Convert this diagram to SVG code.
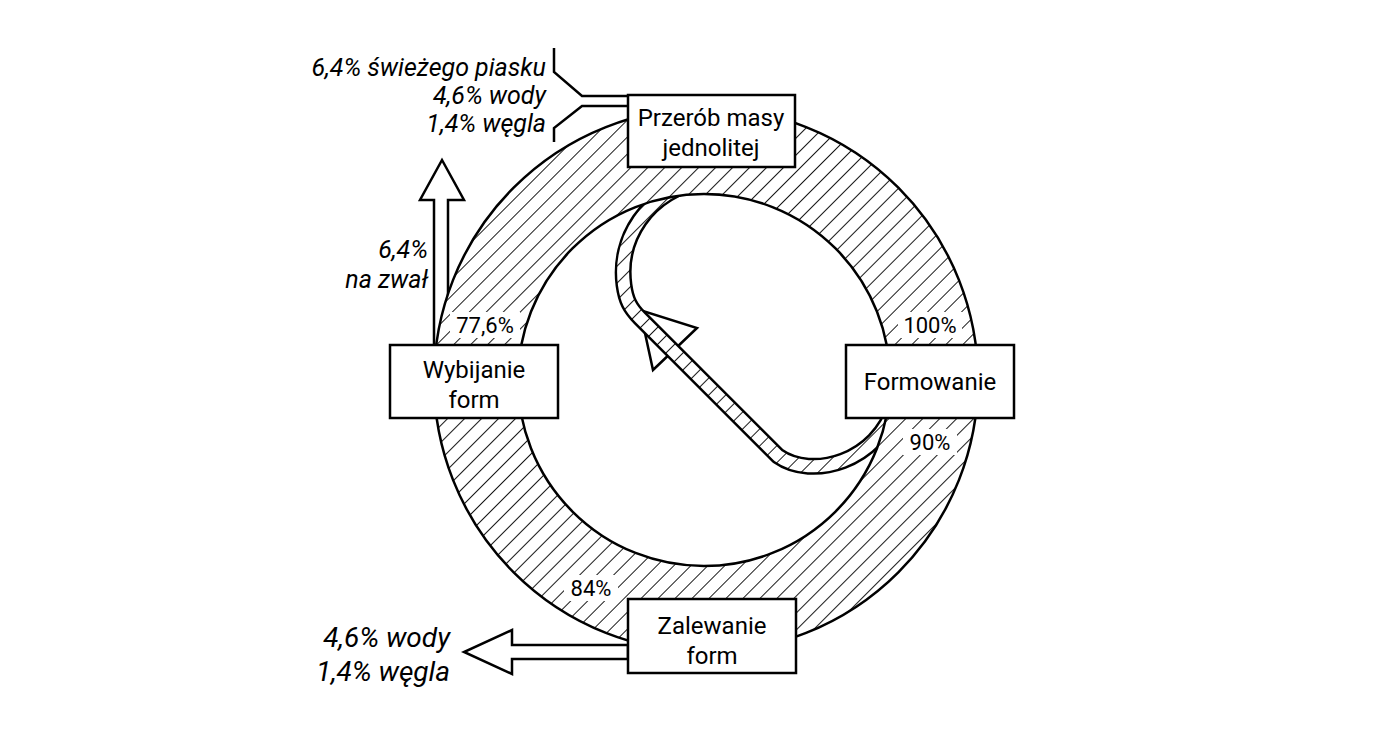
<svg xmlns="http://www.w3.org/2000/svg" width="1400" height="734" viewBox="0 0 1400 734">
<defs>
<pattern id="h" patternUnits="userSpaceOnUse" width="12" height="12" patternTransform="rotate(45)">
<rect width="12" height="12" fill="#fff"/><line x1="0" y1="0" x2="0" y2="12" stroke="#000" stroke-width="1.8"/>
</pattern>
</defs>
<style>
text{font-family:Roboto,"Liberation Sans",sans-serif;font-size:24px;fill:#000}
.it{font-style:italic;font-size:25px;text-anchor:end}
.big{font-size:28px}
.box{fill:#fff;stroke:#000;stroke-width:2.5}
.c{text-anchor:middle}
.ln{fill:none;stroke:#000;stroke-width:2.5}
.lbl{fill:#fff}
.p{font-size:22px}
</style>
<rect width="1400" height="734" fill="#fff"/>
<g id="connectors">
<polygon points="653,370 697,328 640,310" fill="#fff" stroke="#000" stroke-width="2.5"/>
<path d="M704,180 C645,192 618,240 624,285 C626,300 630,308 640,318 L778,456 C812,480 878,462 895,405" fill="none" stroke="#000" stroke-width="17" stroke-linejoin="round"/>
<path d="M704,180 C645,192 618,240 624,285 C626,300 630,308 640,318 L778,456 C812,480 878,462 895,405" fill="none" stroke="url(#h)" stroke-width="12" stroke-linejoin="round"/>
<polygon points="434,345 434,200 420,200 442,160 464,200 448,200 448,345" fill="#fff" stroke="#000" stroke-width="2.5"/>
<polygon points="628,645 512,645 512,630 464,652 512,674 512,659 628,659" fill="#fff" stroke="#000" stroke-width="2.5"/>
<polyline class="ln" points="554,48 554,72 582,96 628,96"/>
<polyline class="ln" points="628,106 582,106 554,128 554,142"/>
</g>
<g id="ring">
<path d="M978,380 A272,272 0 1 1 434,380 A272,272 0 1 1 978,380 Z M890,380 A186,186 0 1 0 518,380 A186,186 0 1 0 890,380 Z" fill="url(#h)" fill-rule="evenodd" stroke="#000" stroke-width="2.5"/>
</g>
<g id="labels">
<rect class="lbl" x="450" y="312" width="70" height="26"/><text x="485" y="333" class="c p">77,6%</text>
<rect class="lbl" x="898" y="312" width="64" height="26"/><text x="930" y="333" class="c p">100%</text>
<rect class="lbl" x="903" y="429" width="54" height="26"/><text x="930" y="450" class="c p">90%</text>
<rect class="lbl" x="564" y="575" width="54" height="26"/><text x="591" y="596" class="c p">84%</text>
<text x="546" y="76" class="it">6,4% świeżego piasku</text>
<text x="546" y="104" class="it">4,6% wody</text>
<text x="546" y="132" class="it">1,4% węgla</text>
<text x="428" y="258" class="it">6,4%</text>
<text x="428" y="288" class="it">na zwał</text>
<text x="450" y="647" class="it big">4,6% wody</text>
<text x="450" y="681" class="it big">1,4% węgla</text>
</g>
<g id="przerob"><rect class="box" x="628" y="95" width="167" height="72"/><text x="711" y="126" class="c">Przerób masy</text><text x="711" y="156" class="c">jednolitej</text></g>
<g id="formowanie"><rect class="box" x="846" y="345" width="168" height="73"/><text x="930" y="390" class="c">Formowanie</text></g>
<g id="zalewanie"><rect class="box" x="628" y="599" width="168" height="74"/><text x="712" y="634" class="c">Zalewanie</text><text x="712" y="664" class="c">form</text></g>
<g id="wybijanie"><rect class="box" x="390" y="345" width="168" height="73"/><text x="474" y="378" class="c">Wybijanie</text><text x="474" y="408" class="c">form</text></g>
</svg>
